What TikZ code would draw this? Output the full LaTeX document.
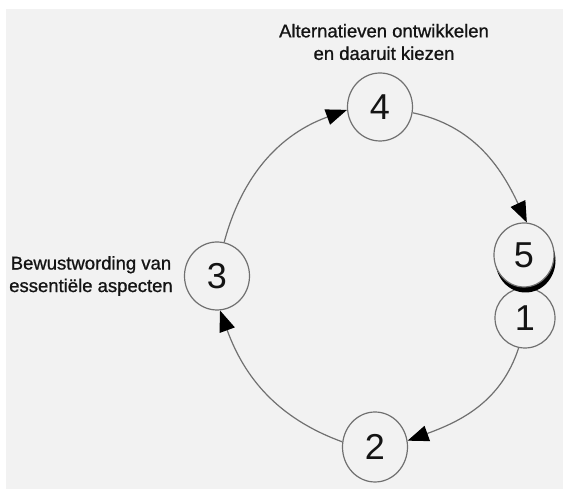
\documentclass[tikz,border=0pt]{standalone}
\usepackage{fontspec}
\setmainfont{Liberation Sans}
\newfontfamily\lblfont[FakeBold=0.9]{Liberation Sans}
\usetikzlibrary{arrows.meta,shapes.geometric}
\definecolor{bggray}{HTML}{F2F2F2}
\definecolor{linegray}{HTML}{707070}
\definecolor{txt}{HTML}{141414}
\tikzset{
  stepcircle/.style={ellipse, draw=linegray, line width=1.2pt, fill=bggray, inner sep=0pt,
     text=txt, font=\fontsize{36}{36}\selectfont},
  arc/.style={draw=linegray, line width=1.2pt, -{Triangle[length=21pt,width=16pt,fill=black,color=black]}},
  lbl/.style={align=center, text=txt, font=\lblfont\fontsize{18.5}{22.5}\selectfont, inner sep=0pt}
}
\begin{document}
\begin{tikzpicture}[x=1pt,y=1pt]
\useasboundingbox (0,0) rectangle (563,489);
\fill[white] (0,0) rectangle (563,489);
\fill[bggray] (6,0) rectangle (563,480);
% nodes
\node[stepcircle, minimum width=65pt, minimum height=68pt] (n4) at (380,382) {4};
\node[stepcircle, minimum width=65pt, minimum height=68pt] (n3) at (217,213) {3};
\node[stepcircle, minimum width=65pt, minimum height=70pt] (n2) at (375,42) {2};
\node[stepcircle, minimum width=60pt, minimum height=60pt] (n1) at (525,171) {1};
\node[ellipse, fill=black, minimum width=60pt, minimum height=64pt, inner sep=0pt] (n5s) at (525.5,228.5) {};
\node[stepcircle, minimum width=60pt, minimum height=64pt] (n5) at (524,234) {5};
% labels
\node[lbl] (t4) at (384,447) {Alternatieven ontwikkelen\\en daaruit kiezen};
\node[lbl] (t3) at (91,213) {Bewustwording van\\essentiële aspecten};
% connectors
\draw[arc] (n3.78) to[out=75,in=200] (n4.185);
\draw[arc] (n4.-10) to[out=-12,in=115] (n5.85);
\draw[arc] (n1.258) to[out=-108,in=20] (n2.11);
\draw[arc] (n2.171) to[out=160,in=-70] (n3.275);
\end{tikzpicture}
\end{document}
